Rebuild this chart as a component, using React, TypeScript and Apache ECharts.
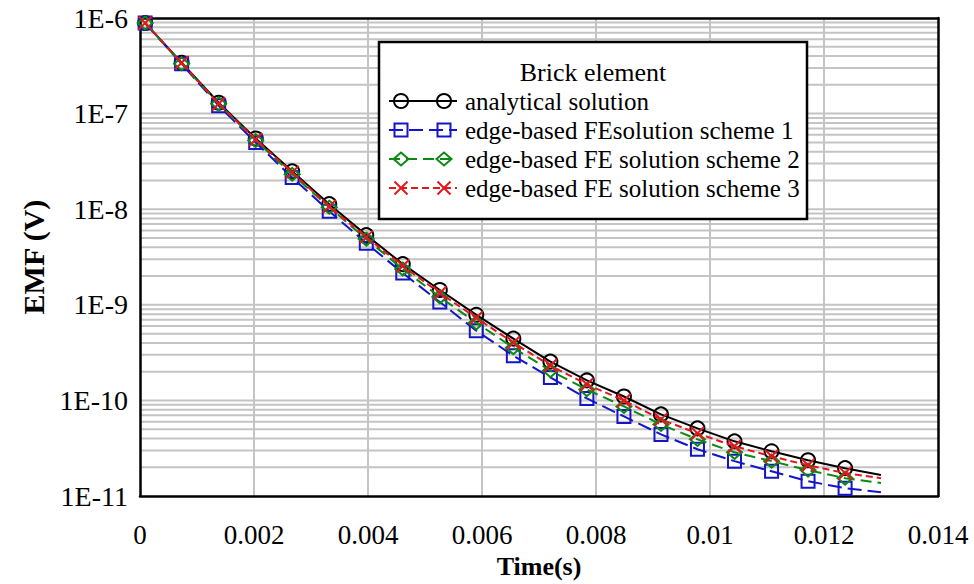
import React, { useEffect, useRef } from "react";
import * as echarts from "echarts";

// Time (s) of each computed point; the last point only continues the line (no marker)
const times = [0.00009, 0.00073, 0.00138, 0.00203, 0.00267, 0.00332, 0.00397, 0.00461, 0.00526, 0.0059, 0.00655, 0.0072, 0.00784, 0.00849, 0.00914, 0.00978, 0.01043, 0.01108, 0.01172, 0.01237, 0.013];

const analytical = [8.87e-7, 3.4e-7, 1.3e-7, 5.49e-8, 2.49e-8, 1.13e-8, 5.36e-9, 2.67e-9, 1.43e-9, 7.87e-10, 4.43e-10, 2.55e-10, 1.62e-10, 1.1e-10, 7.15e-11, 5.11e-11, 3.74e-11, 2.94e-11, 2.37e-11, 1.96e-11, 1.66e-11];
const scheme1 = [8.87e-7, 3.32e-7, 1.21e-7, 4.99e-8, 2.15e-8, 9.53e-9, 4.42e-9, 2.15e-9, 1.07e-9, 5.36e-10, 2.94e-10, 1.74e-10, 1.05e-10, 6.81e-11, 4.42e-11, 3.09e-11, 2.32e-11, 1.82e-11, 1.43e-11, 1.21e-11, 1.1e-11];
const scheme2 = [8.87e-7, 3.32e-7, 1.27e-7, 5.23e-8, 2.32e-8, 1.05e-8, 4.87e-9, 2.37e-9, 1.21e-9, 6.49e-10, 3.56e-10, 2.05e-10, 1.3e-10, 8.66e-11, 5.62e-11, 3.92e-11, 2.87e-11, 2.32e-11, 1.87e-11, 1.54e-11, 1.37e-11];
const scheme3 = [8.87e-7, 3.4e-7, 1.27e-7, 5.36e-8, 2.43e-8, 1.07e-8, 5.11e-9, 2.55e-9, 1.33e-9, 7.32e-10, 4.02e-10, 2.32e-10, 1.47e-10, 1.0e-10, 6.34e-11, 4.53e-11, 3.32e-11, 2.61e-11, 2.1e-11, 1.74e-11, 1.54e-11];

const seriesNames = [
  "analytical solution",
  "edge-based FEsolution scheme 1",
  "edge-based FE solution scheme 2",
  "edge-based FE solution scheme 3",
];
const legendTitle = "Brick element";
const xTickValues = [0.002, 0.004, 0.006, 0.008, 0.01, 0.012];
const yDecades = [-11, -10, -9, -8, -7, -6];
const minorMultipliers = [2, 3, 4, 5, 6, 7, 8, 9];

const FONT = '"Liberation Serif", "Times New Roman", serif';
const X_SYMBOL = "path://M0,0L10,10M10,0L0,10";

const styles = [
  { color: "#000000", dash: "solid" as any, symbol: "circle", size: 14, kind: "circle" },
  { color: "#1414c8", dash: [14, 6], symbol: "rect", size: 13, kind: "rect" },
  { color: "#0a8a14", dash: [11, 6], symbol: "diamond", size: [15, 13], kind: "diamond" },
  { color: "#e3161c", dash: [7, 4], symbol: X_SYMBOL, size: 13, kind: "x" },
];

const seriesValues = [analytical, scheme1, scheme2, scheme3];

function toData(vals: number[]) {
  return times.map((t, i) =>
    i === times.length - 1 ? { value: [t, vals[i]], symbol: "none" } : [t, vals[i]]
  );
}

function gridData() {
  const d: any[] = [];
  const xmin = 0, xmax = 0.014;
  const ymin = Math.pow(10, yDecades[0]);
  const ymax = Math.pow(10, yDecades[yDecades.length - 1]);
  for (let k = 0; k < yDecades.length - 1; k++) {
    const base = Math.pow(10, yDecades[k]);
    const vals = k === 0 ? minorMultipliers : [1, ...minorMultipliers];
    for (const m of vals) {
      const y = m * base;
      d.push([xmin, y], [xmax, y], [xmax, "-"]);
    }
  }
  for (const x of xTickValues) {
    d.push([x, ymin], [x, ymax], [x, "-"]);
  }
  return d;
}

function legendGraphics() {
  const els: any[] = [];
  const box = { x: 379, y: 42, w: 428, h: 177 };
  els.push({
    type: "rect",
    shape: { x: box.x, y: box.y, width: box.w, height: box.h },
    style: { fill: "#ffffff", stroke: "#000000", lineWidth: 2.5 },
    z: 20,
  });
  els.push({
    type: "text",
    x: box.x + box.w / 2,
    y: 72,
    style: { text: legendTitle, fontSize: 26, fontFamily: FONT, fill: "#000", align: "center", verticalAlign: "middle" },
    z: 21,
  });
  const rowY = [101, 130, 159, 188];
  styles.forEach((s, i) => {
    const cy = rowY[i];
    els.push({
      type: "line",
      shape: { x1: 389, y1: cy, x2: 457, y2: cy },
      style: { stroke: s.color, lineWidth: 2, lineDash: s.dash === "solid" ? null : s.dash },
      z: 21,
    });
    [401, 444].forEach((cx) => {
      if (s.kind === "circle") {
        els.push({ type: "circle", shape: { cx, cy, r: 7 }, style: { fill: "none", stroke: s.color, lineWidth: 2 }, z: 22 });
      } else if (s.kind === "rect") {
        els.push({ type: "rect", shape: { x: cx - 6.5, y: cy - 6.5, width: 13, height: 13 }, style: { fill: "none", stroke: s.color, lineWidth: 2 }, z: 22 });
      } else if (s.kind === "diamond") {
        els.push({ type: "polygon", shape: { points: [[cx, cy - 6.5], [cx + 7.5, cy], [cx, cy + 6.5], [cx - 7.5, cy]] }, style: { fill: "none", stroke: s.color, lineWidth: 2 }, z: 22 });
      } else {
        els.push({ type: "line", shape: { x1: cx - 6.5, y1: cy - 6.5, x2: cx + 6.5, y2: cy + 6.5 }, style: { stroke: s.color, lineWidth: 2 }, z: 22 });
        els.push({ type: "line", shape: { x1: cx + 6.5, y1: cy - 6.5, x2: cx - 6.5, y2: cy + 6.5 }, style: { stroke: s.color, lineWidth: 2 }, z: 22 });
      }
    });
    els.push({
      type: "text",
      x: 465,
      y: cy,
      style: { text: seriesNames[i], fontSize: 25, fontFamily: FONT, fill: "#000", align: "left", verticalAlign: "middle" },
      z: 21,
    });
  });
  return els;
}

export default function App() {
  const ref = useRef<HTMLDivElement>(null);
  useEffect(() => {
    if (!ref.current) return;
    const chart = echarts.init(ref.current, undefined, { renderer: "svg" });
    const ymin = Math.pow(10, yDecades[0]);
    const ymax = Math.pow(10, yDecades[yDecades.length - 1]);
    const frameLine = { show: true, onZero: false, lineStyle: { color: "#000", width: 2.5 } };
    chart.setOption({
      animation: false,
      backgroundColor: "#ffffff",
      textStyle: { fontFamily: FONT },
      grid: { left: 140, top: 18, right: 36, bottom: 86, containLabel: false },
      xAxis: [
        {
          type: "value",
          min: 0,
          max: 0.014,
          interval: 0.002,
          position: "bottom",
          z: 3,
          axisLine: frameLine,
          axisTick: { show: false },
          splitLine: { show: false },
          axisLabel: { color: "#000", fontSize: 27, fontFamily: FONT, margin: 25 },
          name: "Time(s)",
          nameLocation: "middle",
          nameGap: 56,
          nameTextStyle: { color: "#000", fontSize: 26, fontWeight: "bold", fontFamily: FONT },
        },
        {
          type: "value",
          min: 0,
          max: 0.014,
          interval: 0.002,
          position: "top",
          z: 3,
          axisLine: frameLine,
          axisTick: { show: false },
          axisLabel: { show: false },
          splitLine: { show: false },
        },
      ],
      yAxis: [
        {
          type: "log",
          logBase: 10,
          min: ymin,
          max: ymax,
          position: "left",
          z: 3,
          axisLine: frameLine,
          axisTick: { show: false },
          splitLine: { show: false },
          axisLabel: {
            color: "#000",
            fontSize: 28,
            fontFamily: FONT,
            margin: 12,
            formatter: (v: number) => "1E" + Math.round(Math.log10(v)),
          },
          name: "EMF (V)",
          nameLocation: "middle",
          nameGap: 90,
          nameRotate: 90,
          nameTextStyle: { color: "#000", fontSize: 30, fontWeight: "bold", fontFamily: FONT },
        },
        {
          type: "log",
          logBase: 10,
          min: ymin,
          max: ymax,
          position: "right",
          z: 3,
          axisLine: frameLine,
          axisTick: { show: false },
          axisLabel: { show: false },
          splitLine: { show: false },
        },
      ],
      series: [
        {
          type: "line",
          name: "gridlines",
          data: gridData(),
          xAxisIndex: 0,
          yAxisIndex: 0,
          symbol: "none",
          silent: true,
          connectNulls: false,
          lineStyle: { color: "#c4c4c4", width: 2 },
          z: 1,
        },
        ...styles.map((s, i) => ({
          type: "line",
          name: seriesNames[i],
          data: toData(seriesValues[i]),
          xAxisIndex: 0,
          yAxisIndex: 0,
          symbol: s.symbol,
          symbolSize: s.size,
          showAllSymbol: true,
          lineStyle: { color: s.color, width: 2, type: s.dash },
          itemStyle: { color: "rgba(0,0,0,0)", borderColor: s.color, borderWidth: 2 },
          z: 5 + i,
          clip: false,
        })),
      ],
      graphic: legendGraphics(),
    });
    return () => chart.dispose();
  }, []);
  return (
    <div
      ref={ref}
      style={{ position: "fixed", left: 0, top: 0, width: 974, height: 584, background: "#fff" }}
    />
  );
}
